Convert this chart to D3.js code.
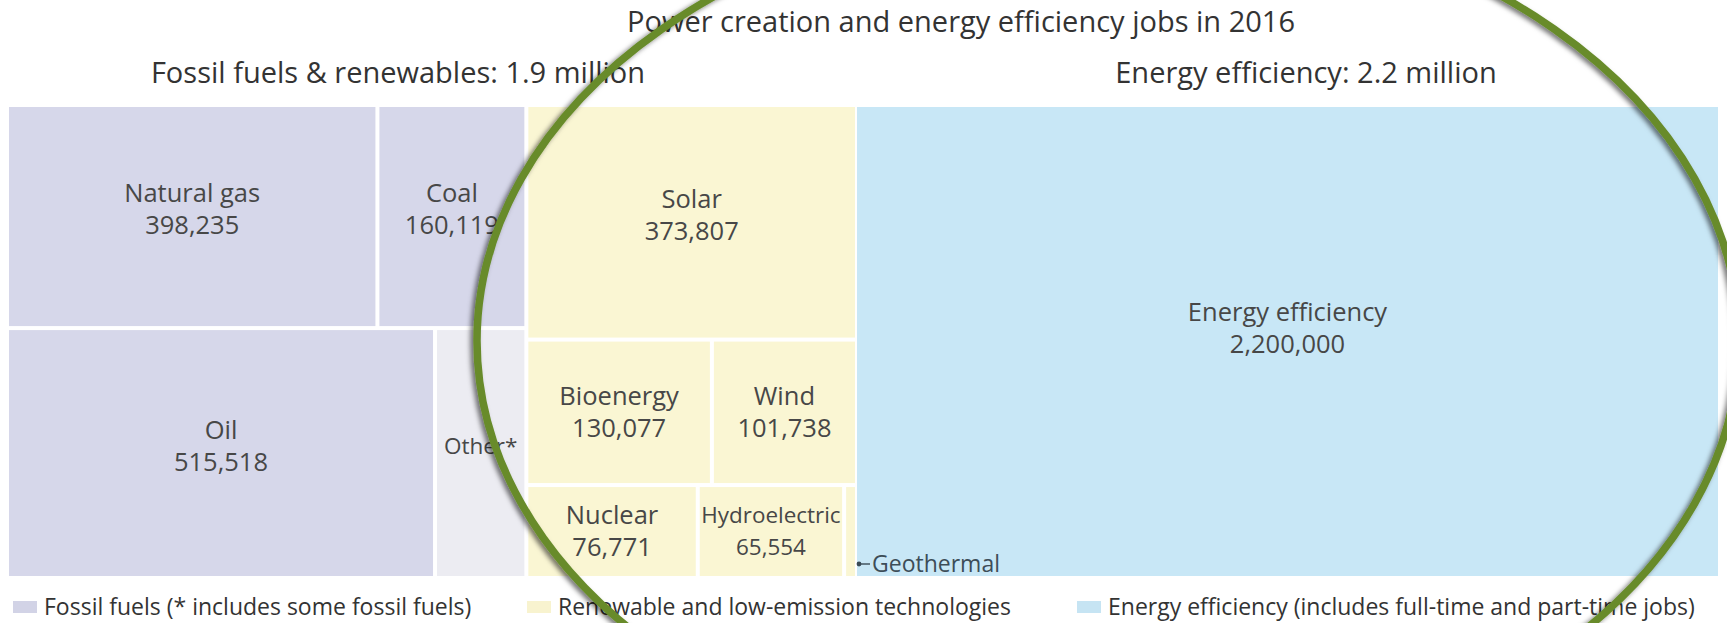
<!DOCTYPE html>
<html>
<head>
<meta charset="utf-8">
<script src="https://cdn.jsdelivr.net/npm/d3@7"></script>
<style>
  html, body { margin: 0; padding: 0; background: #ffffff; }
  svg { display: block; }
  text { font-family: "Open Sans", "Noto Sans", sans-serif; }
</style>
</head>
<body>
<svg id="chart" width="1727" height="623"></svg>
<script>
// ---------------- data ----------------
const fossilNames  = ["Natural gas", "Coal", "Oil", "Other*"];
const fossilValues = [398235, 160119, 515518, 110000];

const renewNames  = ["Solar", "Bioenergy", "Wind", "Nuclear", "Hydroelectric", "Geothermal"];
const renewValues = [373807, 130077, 101738, 76771, 65554, 5768];

const efficiencyNames  = ["Energy efficiency"];
const efficiencyValues = [2200000];

// row groupings of the original layout
const fossilRows = [["Natural gas", "Coal"], ["Oil", "Other*"]];
const renewRows  = [["Solar"], ["Bioenergy", "Wind"], ["Nuclear", "Hydroelectric", "Geothermal"]];

const titleText    = "Power creation and energy efficiency jobs in 2016";
const headingLeft  = "Fossil fuels & renewables: 1.9 million";
const headingRight = "Energy efficiency: 2.2 million";
const legendLabels = [
  "Fossil fuels (* includes some fossil fuels)",
  "Renewable and low-emission technologies",
  "Energy efficiency (includes full-time and part-time jobs)"
];
const noValueLabels  = ["Other*"];
const externalLabels = ["Geothermal"];

// ---------------- styles ----------------
const colors = {
  fossil: "#d6d7ea",
  other: "#ececf2",
  renew: "#faf6d3",
  efficiency: "#c8e7f6"
};
const legendColors = ["#d2d3e6", "#f8f3cf", "#c6e4f3"];
const textColor = "#474747";

const svg = d3.select("#chart");
const fmt = d3.format(",");

// ---------------- layout for fossil + renewables ----------------
function rowsToChildren(rows, names, values, group) {
  return rows.map(r => ({
    children: r.map(n => ({ name: n, value: values[names.indexOf(n)], group: group }))
  }));
}
const leftData = {
  children: [
    { children: rowsToChildren(fossilRows, fossilNames, fossilValues, "fossil") },
    { children: rowsToChildren(renewRows, renewNames, renewValues, "renew") }
  ]
};

function tile(node, x0, y0, x1, y1) {
  if (node.depth === 0) d3.treemapDice(node, x0, y0, x1, y1);
  else if (node.depth === 1) d3.treemapSlice(node, x0, y0, x1, y1);
  else d3.treemapDice(node, x0, y0, x1, y1);
}

const top0 = 107, bottom0 = 576;
const leftX0 = 9, leftX1 = 855;
const rightX0 = 857, rightX1 = 1718;

const leftRoot = d3.hierarchy(leftData).sum(d => d.value || 0);
d3.treemap().tile(tile).size([leftX1 - leftX0, bottom0 - top0]).paddingInner(4)(leftRoot);

const rightData = { children: efficiencyNames.map((n, i) => ({ name: n, value: efficiencyValues[i], group: "efficiency" })) };
const rightRoot = d3.hierarchy(rightData).sum(d => d.value || 0);
d3.treemap().size([rightX1 - rightX0, bottom0 - top0]).paddingInner(4)(rightRoot);

const cells = [];
leftRoot.leaves().forEach(l => cells.push({ d: l.data, x0: l.x0 + leftX0, x1: l.x1 + leftX0, y0: l.y0 + top0, y1: l.y1 + top0 }));
rightRoot.leaves().forEach(l => cells.push({ d: l.data, x0: l.x0 + rightX0, x1: l.x1 + rightX0, y0: l.y0 + top0, y1: l.y1 + top0 }));

function fillOf(c) {
  if (c.d.name === "Other*") return colors.other;
  return colors[c.d.group];
}

const cellG = svg.append("g");
cellG.selectAll("rect").data(cells).join("rect")
  .attr("x", c => c.x0).attr("y", c => c.y0)
  .attr("width", c => Math.max(0, c.x1 - c.x0))
  .attr("height", c => Math.max(0, c.y1 - c.y0))
  .attr("fill", fillOf);

// labels
const labelled = cells.filter(c => !externalLabels.includes(c.d.name));
const lab = cellG.selectAll("g.lab").data(labelled).join("g").attr("class", "lab");
lab.each(function(c) {
  const g = d3.select(this);
  const cx = (c.x0 + c.x1) / 2;
  const w = c.x1 - c.x0;
  const h = c.y1 - c.y0;
  const cy = (c.y0 + c.y1) / 2 - (h > 400 ? 13 : (h > 200 ? 7 : 0));
  if (noValueLabels.includes(c.d.name)) {
    g.append("text").attr("x", cx).attr("y", cy).attr("dy", "0.35em")
      .attr("text-anchor", "middle").attr("font-size", 22.5).attr("fill", textColor)
      .text(c.d.name);
  } else {
    const t1 = g.append("text").attr("x", cx).attr("y", cy - 16).attr("dy", "0.35em")
      .attr("text-anchor", "middle").attr("font-size", 25.5).attr("fill", textColor)
      .text(c.d.name);
    const t2 = g.append("text").attr("x", cx).attr("y", cy + 16).attr("dy", "0.35em")
      .attr("text-anchor", "middle").attr("font-size", 25.5).attr("fill", textColor)
      .text(fmt(c.d.value));
    // shrink to fit narrow cells
    const tw = Math.max(t1.node().getComputedTextLength(), t2.node().getComputedTextLength());
    const avail = w - 3;
    if (tw > avail) {
      const fs = 25.5 * avail / tw;
      t1.attr("font-size", fs);
      t2.attr("font-size", fs);
    }
  }
});

// external label for the geothermal sliver
cells.filter(c => externalLabels.includes(c.d.name)).forEach(c => {
  const px = c.x1 + 4, py = 564;
  svg.append("circle").attr("cx", px).attr("cy", py).attr("r", 2.4).attr("fill", "#3a4a55");
  svg.append("line").attr("x1", px).attr("x2", px + 11).attr("y1", py).attr("y2", py)
    .attr("stroke", "#3a4a55").attr("stroke-width", 1.4);
  svg.append("text").attr("x", px + 13).attr("y", py).attr("dy", "0.35em")
    .attr("font-size", 23).attr("fill", "#3d4d58").text(c.d.name);
});

// ---------------- titles ----------------
svg.append("text").attr("x", 961).attr("y", 32).attr("text-anchor", "middle")
  .attr("font-size", 29).attr("fill", "#333").text(titleText);
svg.append("text").attr("x", 398).attr("y", 83).attr("text-anchor", "middle")
  .attr("font-size", 29).attr("fill", "#333").text(headingLeft);
svg.append("text").attr("x", 1306).attr("y", 83).attr("text-anchor", "middle")
  .attr("font-size", 29).attr("fill", "#333").text(headingRight);

// ---------------- legend ----------------
const legendX = [13, 527, 1077];
const lg = svg.append("g");
legendLabels.forEach((t, i) => {
  lg.append("rect").attr("x", legendX[i]).attr("y", 601).attr("width", 24).attr("height", 12)
    .attr("fill", legendColors[i]);
  lg.append("text").attr("x", legendX[i] + 31).attr("y", 607).attr("dy", "0.35em")
    .attr("font-size", 23).attr("fill", "#333").text(t);
});

// ---------------- annotation ellipse ----------------
const defs = svg.append("defs");
const f = defs.append("filter").attr("id", "shadow").attr("x", "-10%").attr("y", "-10%").attr("width", "120%").attr("height", "120%");
f.append("feDropShadow").attr("dx", -3).attr("dy", 2).attr("stdDeviation", 2.5)
  .attr("flood-color", "#000").attr("flood-opacity", 0.55);
svg.append("ellipse").attr("cx", 1108).attr("cy", 341).attr("rx", 631).attr("ry", 441)
  .attr("fill", "none").attr("stroke", "#678b2c").attr("stroke-width", 7.5)
  .attr("filter", "url(#shadow)");
</script>
</body>
</html>
